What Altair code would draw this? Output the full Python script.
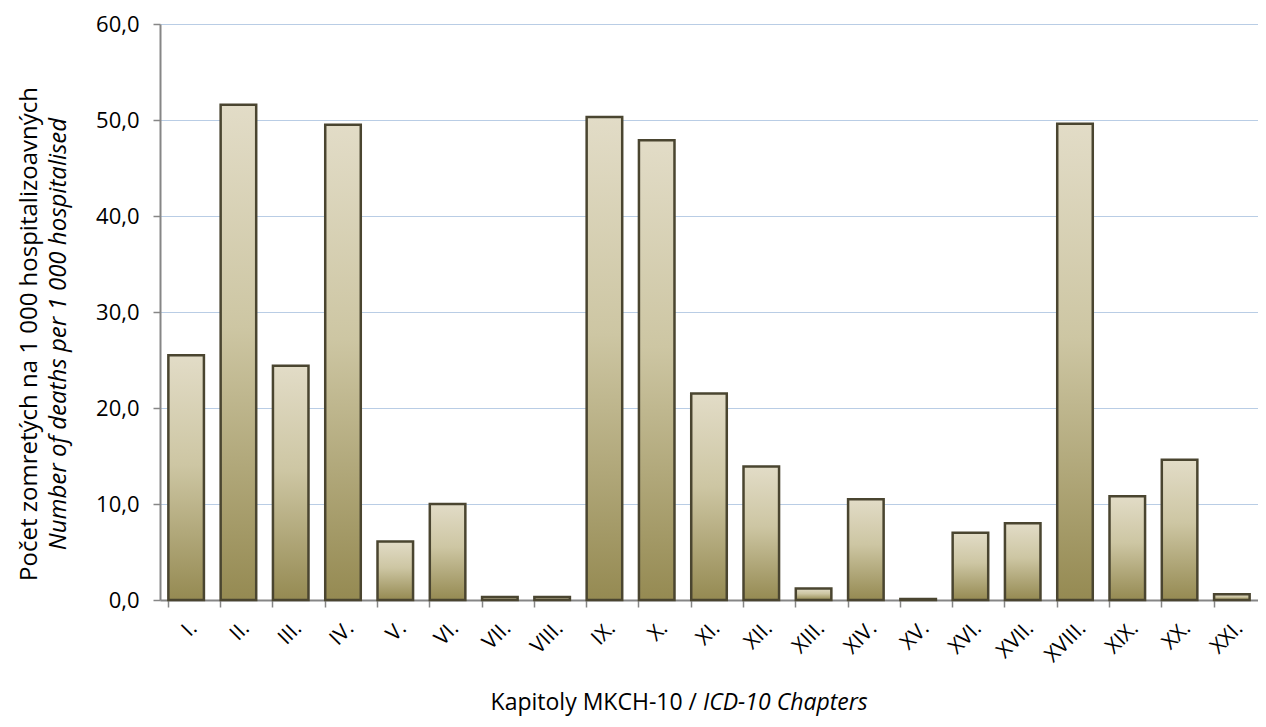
import altair as alt
import pandas as pd

chapters = ["I.", "II.", "III.", "IV.", "V.", "VI.", "VII.", "VIII.", "IX.", "X.", "XI.",
            "XII.", "XIII.", "XIV.", "XV.", "XVI.", "XVII.", "XVIII.", "XIX.", "XX.", "XXI."]
values = [25.5, 51.6, 24.4, 49.5, 6.1, 10.0, 0.3, 0.3, 50.3, 47.9, 21.5,
          13.9, 1.2, 10.5, 0.1, 7.0, 8.0, 49.6, 10.8, 14.6, 0.6]

y_title_cs = "Počet zomretých na 1 000 hospitalizoavných"
y_title_en = "Number of deaths per 1 000 hospitalised"
x_title_cs = "Kapitoly MKCH-10 /"
x_title_en = "ICD-10 Chapters"

df = pd.DataFrame({"chapter": chapters, "value": values})

W, H = 1098, 576
FONT = "Open Sans"

grad = alt.Gradient(
    gradient="linear",
    stops=[
        alt.GradientStop(color="#e2dcc7", offset=0),
        alt.GradientStop(color="#cdc6a3", offset=0.45),
        alt.GradientStop(color="#958a52", offset=1),
    ],
    x1=0, x2=0, y1=0, y2=1,
)

bars = alt.Chart(df).mark_bar(
    color=grad, stroke="#4a4530", strokeWidth=2.5
).encode(
    x=alt.X("chapter:N", sort=chapters, title=None,
            scale=alt.Scale(paddingInner=0.32, paddingOuter=0.16),
            axis=alt.Axis(labelAngle=-45, labelFont=FONT, labelFontSize=21,
                          labelColor="#000000", labelPadding=10,
                          bandPosition=0, tickColor="#868686", tickSize=7,
                          tickWidth=1.5, domainColor="#868686", domainWidth=2,
                          grid=False)),
    y=alt.Y("value:Q", title=None,
            scale=alt.Scale(domain=[0, 60]),
            axis=alt.Axis(values=[0, 10, 20, 30, 40, 50, 60],
                          labelExpr="replace(format(datum.value, '.1f'), '.', ',')",
                          labelFont=FONT, labelFontSize=22, labelColor="#000000",
                          labelPadding=14, tickColor="#868686", tickSize=7,
                          tickWidth=1.5, domainColor="#868686", domainWidth=2,
                          gridColor="#b9cde5", gridWidth=1)),
)

ycs = alt.Chart(pd.DataFrame({"t": [y_title_cs]})).mark_text(
    angle=270, font=FONT, fontSize=24, color="#000000", align="center", baseline="middle"
).encode(text="t:N", x=alt.value(-130), y=alt.value(310))

yen = alt.Chart(pd.DataFrame({"t": [y_title_en]})).mark_text(
    angle=270, font=FONT, fontSize=24, fontStyle="italic", color="#000000",
    align="center", baseline="middle"
).encode(text="t:N", x=alt.value(-101), y=alt.value(310))

xcs = alt.Chart(pd.DataFrame({"t": [x_title_cs]})).mark_text(
    font=FONT, fontSize=23, color="#000000", align="right", baseline="alphabetic"
).encode(text="t:N", x=alt.value(537), y=alt.value(686))

xen = alt.Chart(pd.DataFrame({"t": [x_title_en]})).mark_text(
    font=FONT, fontSize=23, fontStyle="italic", color="#000000", align="left",
    baseline="alphabetic"
).encode(text="t:N", x=alt.value(543), y=alt.value(686))

chart = alt.layer(bars, ycs, yen, xcs, xen).properties(
    width=W, height=H,
    autosize=alt.AutoSizeParams(type="none"),
    padding={"left": 152, "top": 16, "right": 0, "bottom": 124},
    background="#ffffff",
).configure_view(strokeWidth=0)

chart.save("out.html", embed_options={"renderer": "svg", "actions": False})
